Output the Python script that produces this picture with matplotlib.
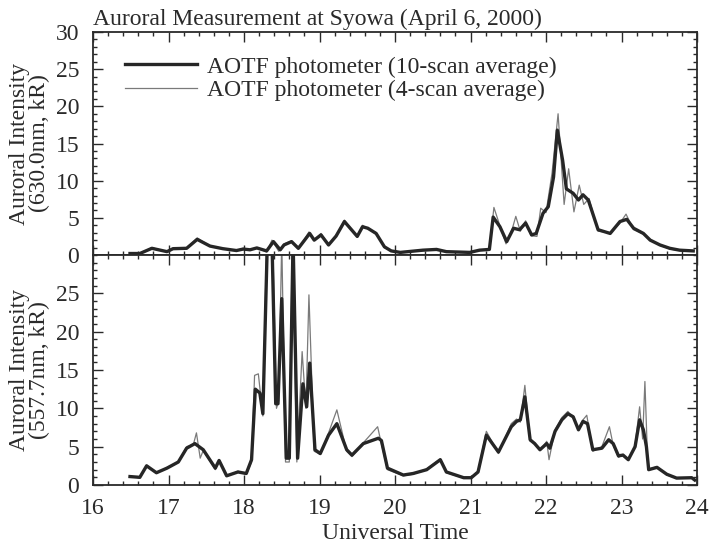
import matplotlib
matplotlib.use("Agg")
import matplotlib.pyplot as plt
from matplotlib.ticker import MultipleLocator

plt.rcParams['font.family'] = ['Liberation Serif', 'DejaVu Serif']

title = "Auroral Measurement at Syowa (April 6, 2000)"
label10 = "AOTF photometer (10-scan average)"
label4 = "AOTF photometer (4-scan average)"
ylabel_top = "Auroral Intensity\n(630.0nm, kR)"
ylabel_bot = "Auroral Intensity\n(557.7nm, kR)"
xlabel = "Universal Time"
xticks = [16, 17, 18, 19, 20, 21, 22, 23, 24]
yticks_top = [0, 5, 10, 15, 20, 25, 30]
yticks_bot = [0, 5, 10, 15, 20, 25]

# 630.0 nm, 10-scan average
t_top10 = [16.49, 16.62, 16.78, 16.98, 17.06, 17.24, 17.38, 17.55, 17.72, 17.90, 17.99, 18.08, 18.17, 18.30, 18.39, 18.48, 18.53, 18.63, 18.72, 18.87, 18.93, 19.02, 19.12, 19.22, 19.33, 19.50, 19.57, 19.64, 19.75, 19.86, 19.95, 20.07, 20.37, 20.55, 20.68, 20.99, 21.12, 21.25, 21.30, 21.39, 21.48, 21.57, 21.65, 21.73, 21.81, 21.87, 21.96, 22.03, 22.10, 22.15, 22.22, 22.27, 22.36, 22.43, 22.49, 22.56, 22.69, 22.85, 22.98, 23.07, 23.16, 23.29, 23.38, 23.51, 23.64, 23.77, 23.95]
v_top10 = [0.2, 0.2, 0.9, 0.45, 0.85, 0.9, 2.1, 1.2, 0.85, 0.6, 0.8, 0.7, 0.95, 0.55, 1.8, 0.7, 1.35, 1.8, 0.9, 2.9, 2.0, 2.7, 1.35, 2.55, 4.5, 2.5, 3.8, 3.6, 2.9, 1.1, 0.55, 0.35, 0.65, 0.75, 0.45, 0.35, 0.65, 0.75, 5.1, 3.8, 1.8, 3.6, 3.4, 4.3, 2.7, 2.9, 5.6, 6.5, 10.5, 16.8, 12.75, 8.9, 8.3, 7.4, 8.1, 7.4, 3.4, 2.9, 4.5, 4.8, 3.6, 2.9, 2.0, 1.35, 0.9, 0.65, 0.55]

# 630.0 nm, 4-scan average
t_top4 = [16.49, 16.62, 16.78, 16.98, 17.06, 17.24, 17.38, 17.55, 17.72, 17.90, 17.99, 18.08, 18.17, 18.30, 18.37, 18.46, 18.53, 18.63, 18.72, 18.86, 18.93, 19.02, 19.12, 19.22, 19.33, 19.50, 19.57, 19.64, 19.75, 19.86, 19.95, 20.07, 20.37, 20.55, 20.68, 20.99, 21.12, 21.25, 21.31, 21.40, 21.47, 21.55, 21.60, 21.66, 21.73, 21.80, 21.88, 21.93, 22.00, 22.08, 22.16, 22.24, 22.30, 22.37, 22.44, 22.50, 22.57, 22.69, 22.85, 22.98, 23.06, 23.16, 23.29, 23.38, 23.51, 23.64, 23.77, 23.95]
v_top4 = [0.3, 0.2, 1.0, 0.4, 0.9, 0.9, 2.3, 1.2, 0.9, 0.6, 0.9, 0.7, 1.0, 0.4, 2.0, 0.5, 1.5, 1.9, 0.8, 3.1, 2.0, 2.9, 1.3, 2.6, 4.7, 2.4, 4.0, 3.5, 3.0, 1.0, 0.5, 0.35, 0.6, 0.8, 0.4, 0.35, 0.6, 0.7, 6.4, 3.6, 1.5, 3.4, 5.2, 3.2, 4.6, 2.6, 2.5, 6.3, 5.7, 11.0, 19.0, 6.8, 11.6, 5.8, 9.4, 6.8, 7.6, 3.2, 3.0, 4.3, 5.5, 3.4, 2.8, 2.1, 1.3, 0.8, 0.6, 0.5]

# 557.7 nm, 10-scan average
t_bot10 = [16.49, 16.62, 16.71, 16.84, 16.98, 17.13, 17.24, 17.35, 17.46, 17.62, 17.67, 17.77, 17.92, 18.03, 18.10, 18.15, 18.21, 18.25, 18.31, 18.37, 18.42, 18.45, 18.50, 18.56, 18.60, 18.65, 18.71, 18.78, 18.83, 18.87, 18.94, 19.01, 19.12, 19.23, 19.36, 19.43, 19.58, 19.78, 19.82, 19.90, 20.11, 20.24, 20.42, 20.60, 20.68, 20.91, 21.01, 21.10, 21.21, 21.37, 21.54, 21.61, 21.66, 21.72, 21.79, 21.85, 21.92, 22.01, 22.05, 22.12, 22.21, 22.29, 22.36, 22.43, 22.49, 22.55, 22.62, 22.74, 22.83, 22.89, 22.96, 23.02, 23.09, 23.18, 23.24, 23.29, 23.33, 23.36, 23.47, 23.60, 23.73, 23.93, 23.97]
v_bot10 = [1.1, 1.0, 2.5, 1.6, 2.2, 3.0, 4.8, 5.4, 4.6, 2.2, 3.2, 1.2, 1.7, 1.5, 3.3, 12.5, 12.0, 9.3, 32, 32, 10.6, 10.6, 24.3, 3.5, 3.5, 32, 3.5, 13.2, 10.2, 15.9, 4.6, 4.1, 6.5, 8.0, 4.6, 3.9, 5.4, 6.1, 5.8, 2.2, 1.3, 1.5, 2.0, 3.3, 1.7, 0.95, 0.95, 1.7, 6.5, 4.3, 7.6, 8.3, 8.5, 11.5, 5.9, 5.4, 4.6, 5.4, 4.8, 7.0, 8.5, 9.3, 8.9, 7.2, 8.3, 8.0, 4.6, 4.8, 5.9, 5.4, 3.8, 3.9, 3.3, 5.0, 8.5, 7.2, 5.0, 2.0, 2.3, 1.4, 0.9, 0.95, 0.65]

# 557.7 nm, 4-scan average
t_bot4 = [16.49, 16.62, 16.71, 16.84, 16.98, 17.13, 17.24, 17.33, 17.37, 17.42, 17.46, 17.62, 17.67, 17.77, 17.92, 18.03, 18.10, 18.14, 18.19, 18.25, 18.30, 18.38, 18.43, 18.46, 18.50, 18.55, 18.60, 18.64, 18.70, 18.77, 18.82, 18.86, 18.93, 19.01, 19.12, 19.23, 19.36, 19.43, 19.58, 19.77, 19.81, 19.90, 20.11, 20.24, 20.42, 20.60, 20.68, 20.91, 21.01, 21.10, 21.21, 21.37, 21.54, 21.61, 21.66, 21.72, 21.79, 21.85, 21.92, 22.01, 22.04, 22.12, 22.21, 22.29, 22.36, 22.43, 22.49, 22.54, 22.62, 22.74, 22.84, 22.89, 22.96, 23.02, 23.09, 23.18, 23.24, 23.28, 23.31, 23.35, 23.47, 23.60, 23.73, 23.93, 23.97]
v_bot4 = [1.2, 0.9, 2.6, 1.5, 2.3, 3.0, 5.0, 5.3, 6.8, 3.5, 4.5, 2.0, 3.3, 1.1, 1.8, 1.4, 3.0, 14.3, 14.5, 9.0, 32, 32, 10.0, 11.0, 32, 3.0, 3.0, 32, 3.0, 17.4, 10.0, 24.8, 4.4, 4.0, 6.8, 9.8, 4.4, 3.7, 5.5, 7.6, 5.8, 2.0, 1.2, 1.4, 2.1, 3.4, 1.6, 0.9, 1.0, 1.8, 7.0, 4.1, 8.0, 8.6, 8.2, 13.0, 5.7, 5.5, 4.5, 5.7, 3.3, 7.2, 8.8, 9.6, 8.7, 7.4, 8.5, 9.1, 4.4, 5.0, 7.6, 5.2, 3.6, 4.0, 3.2, 5.2, 10.2, 6.0, 13.5, 2.0, 2.4, 1.3, 0.9, 1.0, 0.6]

TXT = '#2a2a2a'
THICK = '#262626'
THIN = '#7a7a7a'
FS = 17

W, H = 709, 547
fig = plt.figure(figsize=(W / 100, H / 100), dpi=100)
L, R = 93 / W, 697 / W
ax1 = fig.add_axes([L, 1 - 255 / H, R - L, (255 - 32) / H])
ax2 = fig.add_axes([L, 1 - 485 / H, R - L, (485 - 255) / H])

for ax, t4, v4, t10, v10, yt, yl in [
        (ax1, t_top4, v_top4, t_top10, v_top10, yticks_top, ylabel_top),
        (ax2, t_bot4, v_bot4, t_bot10, v_bot10, yticks_bot, ylabel_bot)]:
    ax.plot(t4, v4, color=THIN, lw=0.9, label=label4, zorder=2)
    ax.plot(t10, v10, color=THICK, lw=2.4, label=label10, zorder=3,
            solid_joinstyle='round')
    ax.set_xlim(16, 24)
    ax.set_ylim(0, 30)
    ax.set_yticks(yt)
    ax.xaxis.set_major_locator(MultipleLocator(1))
    ax.xaxis.set_minor_locator(MultipleLocator(0.2))
    ax.yaxis.set_minor_locator(MultipleLocator(1))
    ax.tick_params(which='both', direction='in', top=True, right=True,
                   colors=TXT, labelcolor=TXT, labelsize=FS, width=1.0)
    ax.tick_params(which='major', length=7)
    ax.tick_params(which='minor', length=3)
    ax.tick_params(axis='y', which='both', pad=10)
    ax.tick_params(axis='x', which='both', pad=9)
    for s in ax.spines.values():
        s.set_linewidth(1.3)
        s.set_color(TXT)
    ax.set_ylabel(yl, fontsize=FS, color=TXT, linespacing=0.92)
    ax.yaxis.set_label_coords(-0.071, 0.5)

ax1.tick_params(labelbottom=False)
ax2.set_xticks(xticks)
ax2.set_xlabel(xlabel, fontsize=FS, color=TXT, labelpad=3)

h, lab = ax1.get_legend_handles_labels()
ax1.legend([h[1], h[0]], [lab[1], lab[0]], loc='upper left', frameon=False,
           fontsize=FS, handlelength=3.05, handletextpad=0.42,
           labelspacing=0.1, bbox_to_anchor=(125 / W, 1 - 56 / H),
           bbox_transform=fig.transFigure, borderaxespad=0, borderpad=0,
           labelcolor=TXT)

fig.text(L, 1 - 25 / H, title, fontsize=FS, color=TXT, ha='left',
         va='baseline')

fig.savefig('out.png', dpi=100)
